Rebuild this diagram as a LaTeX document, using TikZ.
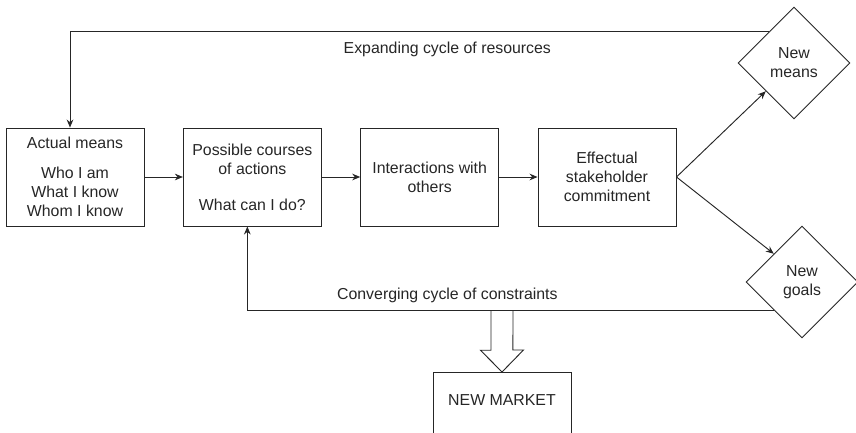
\documentclass[tikz,border=0pt]{standalone}
\usepackage{fontspec}
\setmainfont{Liberation Sans}
\usetikzlibrary{positioning,shapes,arrows.meta}
\tikzstyle{block} = [rectangle, minimum width=103.5pt, minimum height=73.5pt, text centered, align=center, draw=black!85, line width=0.7pt]
\tikzstyle{choice} = [diamond, minimum width=84pt, minimum height=84pt, inner sep=0pt, text centered, align=center, draw=black!85, line width=0.7pt]
\tikzstyle{market} = [rectangle, minimum width=103.5pt, inner ysep=16.5pt, text depth=60pt, anchor=north, draw=black!85, line width=0.7pt]
\tikzstyle{connect} = [line width=0.7pt, draw=black!85, -{Stealth[length=6pt,width=5pt]}]

\begin{document}
\begin{tikzpicture}[x=0.75pt, y=-0.75pt, node distance=133pt, text=black!85, font=\fontsize{11.9}{14.25}\selectfont]
			\useasboundingbox (0,0) rectangle (856,432);
			\node (actual) [block] at (75,177) {Actual means\\[8pt]Who I am\\What I know\\Whom I know};
			\node (poss) [block,right of=actual] {Possible courses\\of actions\\[12.75pt]What can I do?};
			\node (inter) [block,right of=poss] {Interactions with\\others};
			\node (eff) [block,right of=inter] {Effectual\\stakeholder\\commitment};
			\node (means) [choice] at (794,63) {New\\means};
			\node (goals) [choice] at (802,282) {New\\goals};
			\node (newmkt) [market] at (502,372) {NEW MARKET};
			
			\draw [connect] (actual) -- (poss);
			\draw [connect] (poss) -- (inter);
			\draw [connect] (inter) -- (eff);
			\draw [connect] (eff.east) -- (means.south west);
			\draw [connect] (eff.east) -- (goals.north west);
			\draw [connect] (means.129) -| ([xshift=-3.75pt]actual.north) node[pos=0.23, below=4pt] {Expanding cycle of resources};
			\draw [connect] (goals.south west) -| ([xshift=-3.75pt]poss.south) node[pos=0.31, above=2pt] {Converging cycle of constraints};
			
			% hollow arrow down to the market
			\draw [line width=0.7pt, draw=black!85] ([xshift=-8.25pt]newmkt.north |- goals.south west) -- ++(0,-30pt) -- ++(-7.9pt,0) -- (newmkt.north) -- ++(16.1pt,16.5pt) -- ++(-7.9pt,0) -- ([xshift=8.25pt]newmkt.north |- goals.south west);
			\end{tikzpicture}
\end{document}
